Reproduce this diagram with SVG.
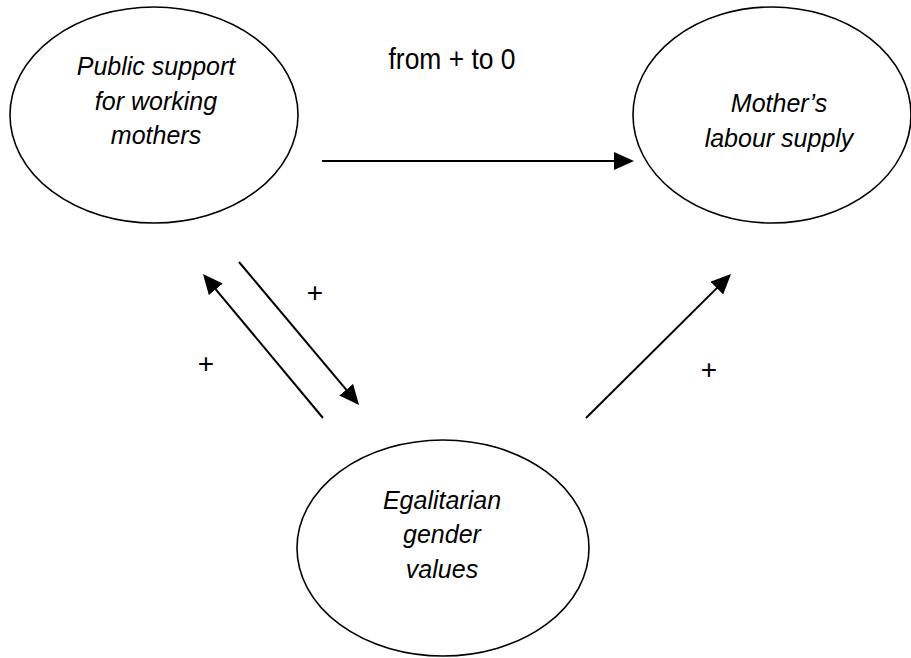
<svg xmlns="http://www.w3.org/2000/svg" width="911" height="658" viewBox="0 0 911 658">
<style>
.node{fill:#fff;stroke:#000;stroke-width:1.6}
.nt{font-family:"Liberation Sans",Arial,sans-serif;font-style:italic;font-size:25px;text-anchor:middle;fill:#000}
.lbl{font-family:"Liberation Sans",Arial,sans-serif;font-size:30px;text-anchor:middle;fill:#000}
.pl{font-family:"Liberation Sans",Arial,sans-serif;font-size:28px;text-anchor:middle;fill:#000}
.edge{stroke:#000;stroke-width:2;fill:none;marker-end:url(#ah)}
</style>
<defs>
<marker id="ah" markerUnits="userSpaceOnUse" markerWidth="20" markerHeight="18" viewBox="0 0 20 18" refX="17" refY="9" orient="auto">
<path d="M0,0 L20,9 L0,18 Z" fill="#000"/>
</marker>
</defs>
<rect width="911" height="658" fill="#fff"/>
<g id="node-public">
<ellipse class="node" cx="154" cy="115" rx="144" ry="108"/>
<text class="nt" x="156" y="75">Public support</text>
<text class="nt" x="156" y="110">for working</text>
<text class="nt" x="156" y="144">mothers</text>
</g>
<g id="node-mother">
<ellipse class="node" cx="772" cy="115" rx="139" ry="108"/>
<text class="nt" x="779" y="112">Mother’s</text>
<text class="nt" x="779" y="147">labour supply</text>
</g>
<g id="node-egal">
<ellipse class="node" cx="443" cy="548" rx="146" ry="108"/>
<text class="nt" x="442" y="509">Egalitarian</text>
<text class="nt" x="442" y="543">gender</text>
<text class="nt" x="442" y="578">values</text>
</g>
<g id="connectors">
<line class="edge" x1="322" y1="161" x2="631" y2="161"/>
<line class="edge" x1="239" y1="262" x2="357.1" y2="402.7"/>
<line class="edge" x1="323" y1="418" x2="204.9" y2="276.3"/>
<line class="edge" x1="586" y1="418" x2="728.9" y2="276.1"/>
<text class="lbl" x="452" y="69" textLength="127" lengthAdjust="spacingAndGlyphs">from + to 0</text>
<text class="pl" x="315" y="302">+</text>
<text class="pl" x="206" y="373">+</text>
<text class="pl" x="709" y="379">+</text>
</g>
</svg>
